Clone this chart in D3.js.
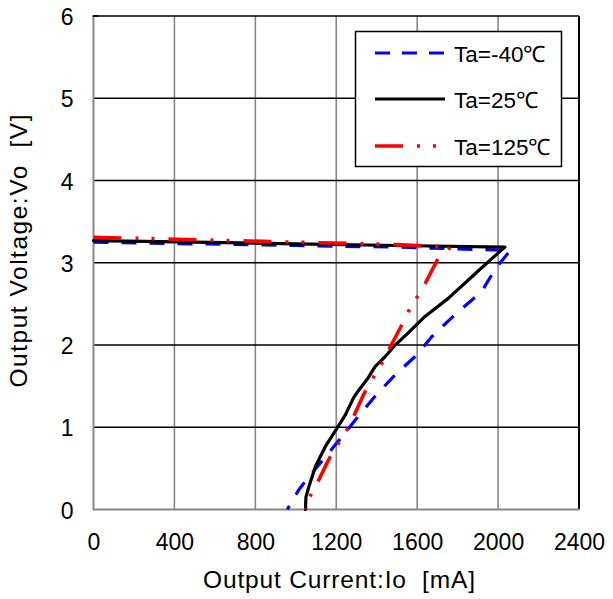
<!DOCTYPE html>
<html>
<head>
<meta charset="utf-8">
<script src="https://cdn.jsdelivr.net/npm/d3@7"></script>
<style>
  html, body { margin: 0; padding: 0; background: #fff; }
  svg { display: block; }
  text { font-family: "Liberation Sans", Arial, sans-serif; fill: #000; }
</style>
</head>
<body>
<svg id="chart" width="613" height="599"></svg>
<script>
// ---- Data ----
const xTicks = [0, 400, 800, 1200, 1600, 2000, 2400];
const yTicks = [0, 1, 2, 3, 4, 5, 6];
const seriesNames = ["Ta=-40\u2103", "Ta=25\u2103", "Ta=125\u2103"];
const xTitle = "Output Current:Io\u00a0\u00a0[mA]";
const yTitle = "Output Voltage:Vo\u00a0\u00a0[V]";

const currentM40 = [0, 500, 1000, 1500, 2060, 1985, 1919, 1787, 1672, 1590, 1492, 1393, 1295, 1237, 1163, 1065, 1015, 958];
const voltageM40 = [3.25, 3.23, 3.21, 3.19, 3.15, 2.92, 2.65, 2.37, 2.10, 1.86, 1.64, 1.38, 1.09, 0.91, 0.69, 0.40, 0.24, 0.0];

const current25 = [0, 500, 1000, 1500, 2034, 2001, 1919, 1853, 1755, 1640, 1557, 1492, 1442, 1393, 1352, 1311, 1286, 1245, 1204, 1147, 1098, 1065, 1050, 1048];
const voltage25 = [3.27, 3.25, 3.23, 3.21, 3.19, 3.12, 2.94, 2.79, 2.57, 2.35, 2.15, 2.00, 1.86, 1.74, 1.58, 1.45, 1.36, 1.15, 0.99, 0.77, 0.53, 0.28, 0.15, 0.0];

const current125 = [0, 500, 1000, 1500, 1766, 1705, 1640, 1599, 1557, 1517, 1459, 1418, 1377, 1336, 1278, 1245, 1196, 1155, 1098, 1056, 1050];
const voltage125 = [3.31, 3.28, 3.25, 3.22, 3.19, 3.06, 2.75, 2.58, 2.41, 2.21, 1.94, 1.74, 1.58, 1.40, 1.09, 0.93, 0.75, 0.57, 0.28, 0.10, 0.0];

// ---- Layout ----
const svg = d3.select("#chart");
const pL = 93.5, pR = 579, pT = 16, pB = 509.5;
const x = d3.scaleLinear().domain([0, 2400]).range([pL, pR]);
const y = d3.scaleLinear().domain([0, 6]).range([pB, pT]);

// vertical grid (gray)
svg.append("g").selectAll("line").data(xTicks.slice(1, -1)).join("line")
  .attr("x1", d => x(d)).attr("x2", d => x(d))
  .attr("y1", pT).attr("y2", pB)
  .attr("stroke", "#888").attr("stroke-width", 1.6);

// horizontal grid (black)
svg.append("g").selectAll("line").data(yTicks.slice(1)).join("line")
  .attr("x1", pL).attr("x2", pR)
  .attr("y1", d => y(d)).attr("y2", d => y(d))
  .attr("stroke", "#000").attr("stroke-width", 1.6);

// right border black
svg.append("line").attr("x1", pR).attr("x2", pR).attr("y1", pT).attr("y2", pB)
  .attr("stroke", "#000").attr("stroke-width", 2);
// left axis gray
svg.append("line").attr("x1", pL).attr("x2", pL).attr("y1", pT).attr("y2", pB)
  .attr("stroke", "#888").attr("stroke-width", 2);
// bottom axis gray
svg.append("line").attr("x1", pL - 1).attr("x2", pR).attr("y1", pB).attr("y2", pB)
  .attr("stroke", "#888").attr("stroke-width", 2.2);
// small black tick at top-left
svg.append("line").attr("x1", pL - 1).attr("x2", pL + 5).attr("y1", pT).attr("y2", pT)
  .attr("stroke", "#000").attr("stroke-width", 1.6);

// tick labels via axes (no lines)
const xAxis = d3.axisBottom(x).tickValues(xTicks).tickSize(0).tickPadding(0).tickFormat(d3.format("d"));
const gx = svg.append("g").attr("transform", `translate(0,${pB})`).call(xAxis);
gx.select(".domain").remove();
gx.selectAll("text").attr("y", 40).attr("dy", 0)
  .style("font-size", "23px").style("font-family", "'Liberation Sans', Arial, sans-serif");

const yAxis = d3.axisLeft(y).tickValues(yTicks).tickSize(0).tickPadding(0).tickFormat(d3.format("d"));
const gy = svg.append("g").attr("transform", `translate(${pL - 20},0)`).call(yAxis);
gy.select(".domain").remove();
gy.selectAll("text").attr("x", 0).attr("dy", "0.37em")
  .style("font-size", "23px").style("font-family", "'Liberation Sans', Arial, sans-serif");

// axis titles
svg.append("text").attr("x", 339).attr("y", 588).attr("text-anchor", "middle")
  .attr("textLength", 272).attr("lengthAdjust", "spacing")
  .style("font-size", "24.5px").text(xTitle);
svg.append("text").attr("transform", "translate(27,251) rotate(-90)").attr("text-anchor", "middle")
  .attr("textLength", 273).attr("lengthAdjust", "spacing")
  .style("font-size", "24.5px").text(yTitle);

// ---- Series ----
const line = d3.line().x(d => x(d[0])).y(d => y(d[1]));
const styles = [
  { color: "#0000ff", width: 3.2, dash: "15,13", cap: "butt" },
  { color: "#000000", width: 3.2, dash: null, cap: "round" },
  { color: "#ff0000", width: 3.6, dash: "28,14,3,13,3,14", cap: "butt" }
];
const seriesData = [
  d3.zip(currentM40, voltageM40),
  d3.zip(current25, voltage25),
  d3.zip(current125, voltage125)
];
seriesData.forEach((pts, i) => {
  const s = styles[i];
  svg.append("path").datum(pts).attr("d", line)
    .attr("fill", "none").attr("stroke", s.color).attr("stroke-width", s.width)
    .attr("stroke-linejoin", "round").attr("stroke-linecap", s.cap)
    .attr("stroke-dasharray", s.dash);
});

// ---- Legend ----
const lg = svg.append("g");
lg.append("rect").attr("x", 355.5).attr("y", 31.5).attr("width", 206).attr("height", 135)
  .attr("fill", "#fff").attr("stroke", "#000").attr("stroke-width", 1.5);
const rowY = [53, 99, 146];
seriesNames.forEach((name, i) => {
  const s = styles[i];
  lg.append("line").attr("x1", 375).attr("x2", 445).attr("y1", rowY[i]).attr("y2", rowY[i])
    .attr("stroke", s.color).attr("stroke-width", s.width)
    .attr("stroke-dasharray", i === 0 ? "15,12" : (i === 2 ? "28,14,3,13,3,14" : null));
  lg.append("text").attr("x", 454).attr("y", rowY[i] + 9)
    .style("font-size", "22.5px").text(name);
});
</script>
</body>
</html>
